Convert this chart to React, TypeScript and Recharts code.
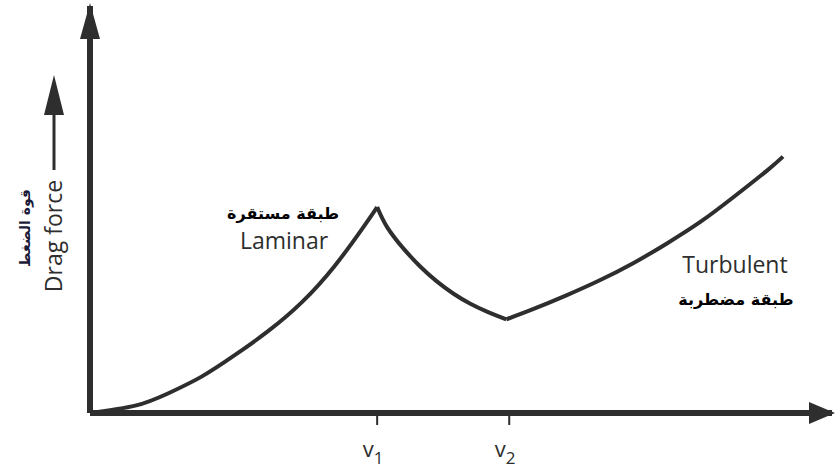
import { LineChart, Line, XAxis, YAxis } from "recharts"

// speed (v) vs drag force (f), both on an arbitrary 0–100 scale
const LAMINAR = [
  { v: 0, f: 0 }, { v: 6.1, f: 1.8 }, { v: 10.5, f: 4.8 }, { v: 15.1, f: 9.0 },
  { v: 19.5, f: 14.2 }, { v: 24.0, f: 20.1 }, { v: 28.6, f: 27.3 }, { v: 33.0, f: 36.2 },
  { v: 36.7, f: 45.3 }, { v: 38.7, f: 50.6 },
]
const TRANSITION = [
  { v: 38.7, f: 50.6 }, { v: 40.0, f: 45.8 }, { v: 42.2, f: 40.5 }, { v: 44.5, f: 36.0 },
  { v: 46.7, f: 32.4 }, { v: 49.0, f: 29.3 }, { v: 51.2, f: 26.9 }, { v: 53.5, f: 24.9 },
  { v: 56.1, f: 23.0 },
]
const TURBULENT = [
  { v: 56.1, f: 23.0 }, { v: 59.7, f: 25.5 }, { v: 64.2, f: 28.9 }, { v: 68.7, f: 32.6 },
  { v: 73.2, f: 36.8 }, { v: 77.7, f: 41.6 }, { v: 82.3, f: 47.0 }, { v: 86.7, f: 53.0 },
  { v: 91.2, f: 59.5 }, { v: 93.4, f: 63.0 },
]
const TICKS = [38.7, 56.5]
const TICK_SUBS = ["1", "2"]

const INK = "#2e2e2e"
const LATIN = "'Open Sans', Lato, sans-serif"
const ARABIC = "'DejaVu Sans', sans-serif"

const VTick = ({ x, y, index }: any) => (
  <text x={x - 4} y={y + 30} textAnchor="middle" fontFamily={LATIN} fontSize={22} fill={INK}>
    v<tspan dy={7} fontSize={17}>{TICK_SUBS[index]}</tspan>
  </text>
)

export default function App() {
  return (
    <div style={{ position: "absolute", left: 0, top: 0, width: 837, height: 468, background: "#fff" }}>
      <LineChart width={837} height={468} margin={{ top: 6, right: 5, bottom: 15, left: 89 }}>
        <defs>
          <marker id="arrowY" viewBox="0 0 36 20" refX={33} refY={10} markerWidth={36} markerHeight={20}
            markerUnits="userSpaceOnUse" orient="auto-start-reverse">
            <path d="M0,0 L36,10 L0,20 z" fill={INK} />
          </marker>
          <marker id="arrowX" viewBox="0 0 26 22" refX={23} refY={11} markerWidth={26} markerHeight={22}
            markerUnits="userSpaceOnUse" orient="auto">
            <path d="M0,0 L26,11 L0,22 z" fill={INK} />
          </marker>
        </defs>
        <XAxis
          type="number" dataKey="v" domain={[0, 100]} ticks={TICKS} height={40}
          axisLine={{ stroke: INK, strokeWidth: 6, markerEnd: "url(#arrowX)" }}
          tickLine={{ stroke: INK, strokeWidth: 2 }} tickSize={12}
          tick={<VTick />} interval={0}
        />
        <YAxis
          type="number" dataKey="f" domain={[0, 100]} width={1} tick={false} tickLine={false}
          axisLine={{ stroke: INK, strokeWidth: 6, markerStart: "url(#arrowY)" }}
        />
        <Line data={LAMINAR} dataKey="f" type="natural" stroke={INK} strokeWidth={4} dot={false} isAnimationActive={false} />
        <Line data={TRANSITION} dataKey="f" type="natural" stroke={INK} strokeWidth={4} dot={false} isAnimationActive={false} />
        <Line data={TURBULENT} dataKey="f" type="natural" stroke={INK} strokeWidth={4} dot={false} isAnimationActive={false} />

        {/* y-axis label with its arrow */}
        <g>
          <line x1={54} y1={170} x2={54} y2={110} stroke={INK} strokeWidth={3} />
          <path d="M44,115 L54,75 L64,115 z" fill={INK} />
          <text transform="translate(62,236) rotate(-90)" textAnchor="middle" fontFamily={LATIN} fontSize={23} fill={INK}>
            Drag force
          </text>
          <text transform="translate(30,228) rotate(-90)" textAnchor="middle" fontFamily={ARABIC} fontWeight="bold" fontSize={14} fill="#1b1b3a">
            قوة الضغط
          </text>
        </g>

        {/* regime labels */}
        <text x={283} y={219} textAnchor="middle" fontFamily={ARABIC} fontWeight="bold" fontSize={16} fill="#000">
          طبقة  مستقرة
        </text>
        <text x={284} y={249} textAnchor="middle" fontFamily={LATIN} fontSize={23} fill={INK}>Laminar</text>
        <text x={735} y={273} textAnchor="middle" fontFamily={LATIN} fontSize={23} fill={INK}>Turbulent</text>
        <text x={736} y={305} textAnchor="middle" fontFamily={ARABIC} fontWeight="bold" fontSize={16} fill="#000">
          طبقة مضطربة
        </text>
      </LineChart>
    </div>
  )
}
